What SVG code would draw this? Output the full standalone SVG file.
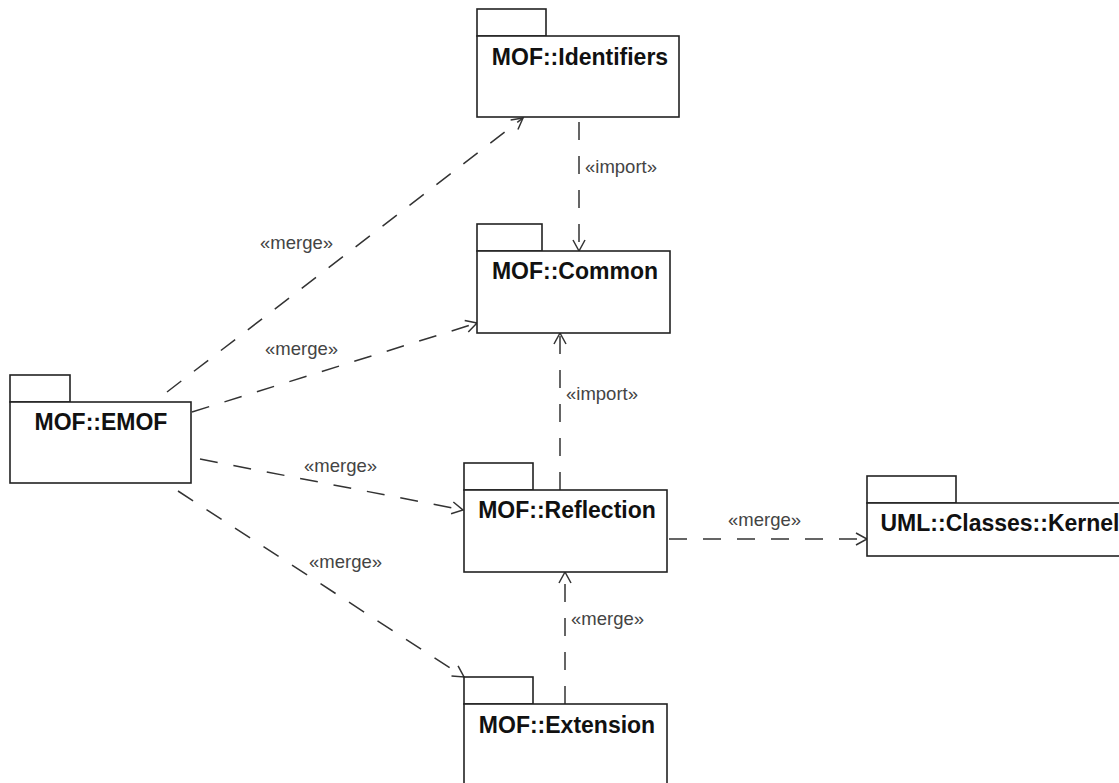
<svg xmlns="http://www.w3.org/2000/svg" width="1119" height="783" viewBox="0 0 1119 783">
<style>
.pkg{fill:#fff;stroke:#222;stroke-width:1.6}
.title{font-family:"Liberation Sans",Arial,sans-serif;font-weight:bold;font-size:23px;fill:#111;text-anchor:middle}
.lbl{font-family:"Liberation Sans",Arial,sans-serif;font-size:18.5px;fill:#444}
.dep{fill:none;stroke:#333;stroke-width:1.5;stroke-dasharray:18 16}
</style>
<defs>
<marker id="open" markerUnits="userSpaceOnUse" viewBox="-13 -8 15 16" refX="0" refY="0" markerWidth="15" markerHeight="16" orient="auto">
<path d="M-11,-6 L0,0 L-11,6" fill="none" stroke="#333" stroke-width="1.5"/>
</marker>
</defs>
<rect width="1119" height="783" fill="#fff"/>
<g id="connectors">
<line class="dep" x1="579" y1="122" x2="579" y2="251" marker-end="url(#open)"/>
<line class="dep" x1="560" y1="490" x2="560" y2="333" marker-end="url(#open)"/>
<line class="dep" x1="565" y1="704" x2="565" y2="572" marker-end="url(#open)"/>
<line class="dep" x1="669" y1="539" x2="867" y2="539" marker-end="url(#open)"/>
<line class="dep" x1="167" y1="392" x2="523" y2="118" marker-end="url(#open)"/>
<line class="dep" x1="192" y1="412" x2="477" y2="323" marker-end="url(#open)"/>
<line class="dep" x1="200" y1="459" x2="463" y2="510" marker-end="url(#open)"/>
<line class="dep" x1="178" y1="491" x2="464" y2="677" marker-end="url(#open)"/>
<text class="lbl" x="585" y="173">«import»</text>
<text class="lbl" x="566" y="400">«import»</text>
<text class="lbl" x="571" y="625">«merge»</text>
<text class="lbl" x="728" y="526">«merge»</text>
<text class="lbl" x="260" y="249">«merge»</text>
<text class="lbl" x="265" y="355">«merge»</text>
<text class="lbl" x="304" y="472">«merge»</text>
<text class="lbl" x="309" y="568">«merge»</text>
</g>
<g id="identifiers">
<rect class="pkg" x="477" y="9" width="69" height="27"/>
<rect class="pkg" x="477" y="36" width="202" height="81"/>
<text class="title" x="580" y="65">MOF::Identifiers</text>
</g>
<g id="common">
<rect class="pkg" x="477" y="224" width="65" height="27"/>
<rect class="pkg" x="477" y="251" width="193" height="82"/>
<text class="title" x="575" y="279">MOF::Common</text>
</g>
<g id="emof">
<rect class="pkg" x="10" y="375" width="60" height="27"/>
<rect class="pkg" x="10" y="402" width="181" height="81"/>
<text class="title" x="101" y="430">MOF::EMOF</text>
</g>
<g id="reflection">
<rect class="pkg" x="464" y="463" width="69" height="27"/>
<rect class="pkg" x="464" y="490" width="203" height="82"/>
<text class="title" x="567" y="518">MOF::Reflection</text>
</g>
<g id="kernel">
<rect class="pkg" x="867" y="476" width="89" height="27"/>
<rect class="pkg" x="867" y="503" width="270" height="53"/>
<text class="title" x="1000" y="531">UML::Classes::Kernel</text>
</g>
<g id="extension">
<rect class="pkg" x="464" y="677" width="69" height="27"/>
<rect class="pkg" x="464" y="704" width="203" height="100"/>
<text class="title" x="567" y="733">MOF::Extension</text>
</g>
</svg>
